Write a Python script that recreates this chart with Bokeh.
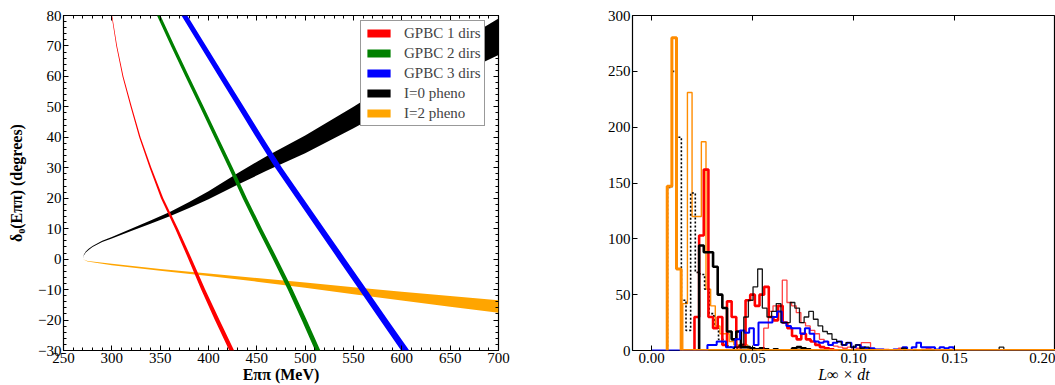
import numpy as np
from bokeh.plotting import figure
from bokeh.layouts import row
from bokeh.models import Range1d, LinearAxis, Legend, LegendItem, FixedTicker
from bokeh.embed import file_html
from bokeh.resources import INLINE

FONT = "Liberation Serif"

# ---------------- left panel data ----------------
legend_labels = ["GPBC 1 dirs", "GPBC 2 dirs", "GPBC 3 dirs", "I=0 pheno", "I=2 pheno"]

# GPBC curves: energy (MeV) lower / upper edge at given phase shift (degrees)
gpbc_delta = [80, 70, 60, 50, 40, 30, 20, 10, 0, -10, -20, -30]
gpbc1_lo = [299.7, 304.6, 311.0, 319.4, 328.3, 339.1, 350.8, 365.5, 379.2, 392.4, 406.6, 421.5]
gpbc1_hi = [300.3, 305.4, 312.0, 320.6, 329.7, 340.9, 353.2, 368.5, 382.8, 396.6, 411.4, 426.5]
gpbc2_lo = [346.7, 361.2, 376.1, 391.1, 406.0, 420.9, 435.3, 450.7, 466.6, 482.0, 496.4, 510.3]
gpbc2_hi = [350.3, 364.9, 379.9, 395.0, 410.0, 425.1, 439.7, 455.3, 471.4, 487.0, 501.6, 515.7]
gpbc3_lo = [372.0, 391.3, 410.6, 429.9, 449.2, 469.0, 490.7, 512.4, 534.1, 555.8, 577.5, 599.3]
gpbc3_hi = [378.0, 397.5, 417.0, 436.5, 456.0, 476.0, 497.9, 519.8, 541.7, 563.6, 585.5, 607.7]

# phenomenological bands: phase shift (degrees) lower / upper edge vs energy (MeV)
i0_energy = [270, 271, 273, 276, 280, 290, 300, 320, 340, 360, 380, 400, 430, 460,
             500, 550, 600, 650, 700]
i0_lo = [0, 1.2, 2.2, 3.0, 4.0, 5.6, 6.8, 9.2, 11.6, 14.1, 16.8, 19.7, 24.4, 29.0,
         34.8, 43.0, 51.6, 59.5, 67.0]
i0_hi = [0, 1.4, 2.5, 3.4, 4.3, 6.0, 7.3, 10.0, 12.7, 15.5, 18.8, 22.3, 28.2, 33.8,
         40.6, 50.0, 60.0, 69.5, 79.0]
i2_energy = [270, 275, 300, 350, 400, 450, 500, 550, 600, 650, 700]
i2_hi = [0, -0.6, -1.5, -3.2, -4.7, -6.2, -7.7, -9.2, -10.7, -12.1, -13.5]
i2_lo = [0, -0.8, -2.0, -3.8, -5.5, -7.4, -9.4, -11.5, -13.6, -15.6, -17.6]

x_ticks_left = [250, 300, 350, 400, 450, 500, 550, 600, 650, 700]
y_ticks_left = [-30, -20, -10, 0, 10, 20, 30, 40, 50, 60, 70, 80]

# ---------------- right panel data (step histograms) ----------------
BIN_W = 0.0023
hist_orange_thick_x0 = 0.0077
hist_orange_thick = [147, 280, 73, 0, 0, 0, 0, 0, 0, 0, 0, 0, 0, 0, 0, 0, 0, 0, 0, 0,
                     0, 0, 0, 0, 0, 0, 0, 0, 0, 0, 0, 0, 0, 0, 0, 0, 0, 0, 0, 0,
                     0, 0, 0, 0, 0, 0, 0, 0, 0, 0, 0, 0, 0, 0, 0, 0, 0, 0, 0, 0,
                     0, 0, 0, 0, 0, 0, 0, 0, 0, 0, 0, 0, 0, 0, 0, 0, 0, 0, 0, 0,
                     0, 0, 0, 0]
hist_orange_thin_x0 = 0.0154
hist_orange_thin = [42, 231, 120, 120, 187, 55, 40, 22, 15, 15, 8, 5, 3, 5, 2, 1, 0]
hist_black_dash_x0 = 0.0078
hist_black_dash = [146, 250, 191, 45, 18, 141, 70, 68, 55, 33, 20, 10, 5, 3, 2, 1, 0]
hist_red_thick_x0 = 0.0212
hist_red_thick = [30, 103, 162, 30, 20, 30, 5, 44, 30, 3, 5, 45, 50, 40, 50, 57, 30, 27, 40,
                  25, 20, 13, 10, 15, 10, 8, 5, 3, 2, 1, 0]
hist_black_thick_x0 = 0.0235
hist_black_thick = [94, 88, 88, 75, 50, 38, 17, 10, 17, 3, 3, 2, 1, 2, 1, 0, 1, 0, 0, 0,
                    2, 3, 2, 1, 0]
hist_red_thin_x0 = 0.0555
hist_red_thin = [20, 35, 40, 40, 63, 43, 40, 34, 25, 22, 18, 15, 10, 8, 5, 4, 3, 2, 3, 1,
                 2, 7, 7, 1, 1, 1, 1, 0, 1, 2, 1, 0, 1, 0, 1, 2, 1, 0, 0, 0]
hist_blue_x0 = 0.0
hist_blue = [0, 0, 0, 0, 0, 0, 0, 0, 0, 0, 0, 0, 5, 5, 8, 8, 3, 3, 10, 18,
             16, 20, 5, 25, 25, 25, 30, 35, 25, 22, 20, 20, 15, 20, 15, 8, 7, 8, 5, 7,
             8, 5, 7, 3, 5, 3, 2, 2, 1, 1, 0, 0, 1, 0, 3, 0, 3, 7, 3, 3,
             3, 1, 3, 2, 3, 0, 0, 0, 0, 0, 0, 0, 0, 0, 0, 0, 0, 0, 0, 0,
             0, 0, 0, 0, 0, 0, 0]
hist_black_thin_x0 = 0.041
hist_black_thin = [3, 5, 30, 45, 57, 73, 38, 30, 35, 42, 25, 25, 43, 38, 25, 30, 35, 28, 22, 17,
                   15, 10, 8, 5, 7, 3, 5, 2, 3, 1, 0, 0, 0, 0, 0, 0, 2, 0, 0, 0,
                   0, 0, 0, 0, 0, 0, 0, 0, 0, 0, 0, 0, 0, 0, 0, 0, 0, 3, 0, 0,
                   0, 0, 0, 0, 0, 0, 0, 0, 0]

x_ticks_right = [0.0, 0.05, 0.10, 0.15, 0.20]
y_ticks_right = [0, 50, 100, 150, 200, 250, 300]


def style_axis(ax, ticks, minor, labels=True, size="15px"):
    ax.ticker = FixedTicker(ticks=ticks, minor_ticks=minor)
    ax.axis_line_color = None
    ax.major_tick_in = 5
    ax.major_tick_out = 0
    ax.minor_tick_in = 3 if minor else 0
    ax.minor_tick_out = 0
    ax.major_tick_line_color = "#000000"
    ax.minor_tick_line_color = "#000000" if minor else None
    ax.major_label_text_font = FONT
    ax.major_label_text_font_size = size
    ax.major_label_text_color = "#000000"
    ax.major_label_standoff = 2 if labels else 0
    if not labels:
        ax.major_label_overrides = {t: "" for t in ticks}
    ax.axis_label_text_font = FONT
    ax.axis_label_text_font_size = "16px"
    ax.axis_label_text_color = "#000000"
    ax.axis_label_standoff = 0


# ---------------- left figure ----------------
p1 = figure(width=528, height=385, x_range=Range1d(250, 700), y_range=Range1d(-30, 80),
            output_backend="svg", toolbar_location=None,
            min_border_left=63, min_border_right=30, min_border_top=15, min_border_bottom=30)
p1.grid.visible = False
p1.outline_line_color = "#000000"
p1.outline_line_width = 1.2

r_i0 = p1.varea(x=i0_energy, y1=i0_lo, y2=i0_hi, fill_color="#000000")
r_i2 = p1.varea(x=i2_energy, y1=i2_lo, y2=i2_hi, fill_color="#ffa500")
r_g1 = p1.harea(y=gpbc_delta, x1=gpbc1_lo, x2=gpbc1_hi, fill_color="#ff0000")
r_g2 = p1.harea(y=gpbc_delta, x1=gpbc2_lo, x2=gpbc2_hi, fill_color="#008000")
r_g3 = p1.harea(y=gpbc_delta, x1=gpbc3_lo, x2=gpbc3_hi, fill_color="#0000ff")

x_minor_left = list(range(250, 701, 10))
y_minor_left = list(range(-30, 81, 2))
style_axis(p1.xaxis[0], x_ticks_left, x_minor_left)
style_axis(p1.yaxis[0], y_ticks_left, y_minor_left)
p1.yaxis[0].major_label_overrides = {t: ("\u2212" + str(-t) if t < 0 else str(t)) for t in y_ticks_left}
p1.xaxis[0].axis_label = "E\u03c0\u03c0 (MeV)"
p1.xaxis[0].axis_label_text_font_style = "bold"
p1.yaxis[0].axis_label = "\u03b4\u2080(E\u03c0\u03c0) (degrees)"
p1.yaxis[0].axis_label_text_font_style = "bold"
p1.yaxis[0].axis_label_standoff = 10
top1 = LinearAxis()
right1 = LinearAxis()
style_axis(top1, x_ticks_left, x_minor_left, labels=False)
style_axis(right1, y_ticks_left, y_minor_left, labels=False)
p1.add_layout(top1, "above")
p1.add_layout(right1, "right")

legend = Legend(items=[LegendItem(label=lab, renderers=[r]) for lab, r in
                       zip(legend_labels, [r_g1, r_g2, r_g3, r_i0, r_i2])],
                location=(297, 224), padding=3, spacing=2,
                glyph_width=29, glyph_height=10, label_height=18, label_standoff=11,
                label_text_font=FONT, label_text_font_size="15px",
                border_line_color="#333333", border_line_width=1.2,
                background_fill_color="#ffffff", background_fill_alpha=1.0)
p1.add_layout(legend)

# ---------------- right figure ----------------
p2 = figure(width=527, height=385, x_range=Range1d(-0.0095, 0.2), y_range=Range1d(0, 300),
            output_backend="svg", toolbar_location=None,
            min_border_left=104, min_border_right=0, min_border_top=15, min_border_bottom=30)
p2.grid.visible = False
p2.outline_line_color = "#000000"
p2.outline_line_width = 1.2


def step_xy(x0, counts):
    edges = x0 + BIN_W * np.arange(len(counts) + 1)
    xs = np.concatenate([[edges[0]], edges])
    ys = np.concatenate([[0], counts, [0]])
    return xs, ys


series = [
    (hist_orange_thin_x0, hist_orange_thin, "#ff8c00", 1.4, "solid", 1.0),
    (hist_black_dash_x0, hist_black_dash, "#000000", 1.6, "2 2", 1.0),
    (hist_red_thick_x0, hist_red_thick, "#ff0000", 2.6, "solid", 1.0),
    (hist_black_thick_x0, hist_black_thick, "#000000", 2.6, "solid", 1.0),
    (hist_red_thin_x0, hist_red_thin, "#ff0000", 1.3, "solid", 0.75),
    (hist_blue_x0, hist_blue, "#0000ff", 2.0, "solid", 1.0),
    (hist_black_thin_x0, hist_black_thin, "#000000", 1.3, "solid", 0.9),
    (hist_orange_thick_x0, hist_orange_thick, "#ff8c00", 3.0, "solid", 1.0),
]
for x0, counts, col, lw, dash, alpha in series:
    xs, ys = step_xy(x0, counts)
    p2.step(xs, ys, mode="after", line_color=col, line_width=lw, line_dash=dash, line_alpha=alpha)

style_axis(p2.xaxis[0], x_ticks_right, [])
style_axis(p2.yaxis[0], y_ticks_right, [])
p2.xaxis[0].major_label_overrides = {t: "%.2f" % t for t in x_ticks_right}
p2.xaxis[0].axis_label = "L\u221e \u00d7 dt"
p2.xaxis[0].axis_label_text_font_style = "italic"
top2 = LinearAxis()
style_axis(top2, x_ticks_right, [], labels=False)
p2.add_layout(top2, "above")

layout = row(p1, p2)
open("out.html", "w").write(file_html(layout, INLINE))
